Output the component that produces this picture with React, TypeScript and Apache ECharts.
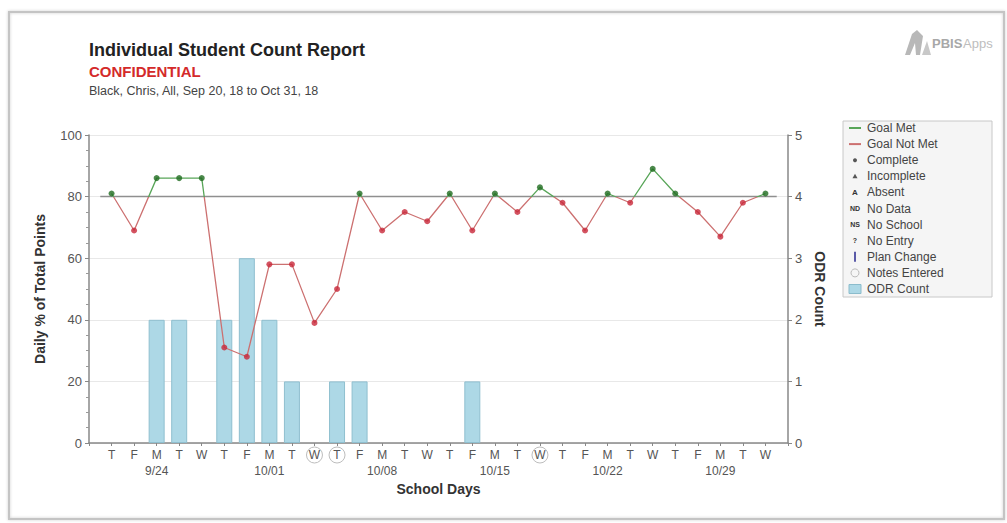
import React, { useEffect, useRef } from "react";
import * as echarts from "echarts";

const FONT = "'Liberation Sans', Arial, sans-serif";

// School days (Sep 20, 18 to Oct 31, 18)
const days = ["T","F","M","T","W","T","F","M","T","W","T","F","M","T","W","T","F","M","T","W","T","F","M","T","W","T","F","M","T","W"];
const dates = ["9/20","9/21","9/24","9/25","9/26","9/27","9/28","10/01","10/02","10/03","10/04","10/05","10/08","10/09","10/10","10/11","10/12","10/15","10/16","10/17","10/18","10/19","10/22","10/23","10/24","10/25","10/26","10/29","10/30","10/31"];
// Daily % of total points
const dailyPoints = [81,69,86,86,86,31,28,58,58,39,50,81,69,75,72,81,69,81,75,83,78,69,81,78,89,81,75,67,78,81];
// ODR count
const odrCount = [0,0,2,2,0,2,3,2,1,0,1,1,0,0,0,0,1,0,0,0,0,0,0,0,0,0,0,0,0,0];
// Days with notes entered (indexes into days)
const notesEntered = [9, 10, 19];
const GOAL = 80;

const leftTicks = { min: 0, max: 100, interval: 20 };
const rightTicks = { min: 0, max: 5, interval: 1 };

const legendItems = ["Goal Met","Goal Not Met","Complete","Incomplete","Absent","No Data","No School","No Entry","Plan Change","Notes Entered","ODR Count"];

const GREEN_LINE = "#58a558";
const RED_LINE = "#cc7070";
const GREEN_PT = "#1f6b1f";
const RED_PT = "#c8283a";

export default function App() {
  const ref = useRef<HTMLDivElement>(null);
  useEffect(() => {
    if (!ref.current) return;
    const chart = echarts.init(ref.current, null, { renderer: "svg" });
    const cats = ["", ...dates, ""];
    const pad = (arr: any[]) => ["-", ...arr, "-"];
    const lineData = pad(dailyPoints);
    const pointData = pad(
      dailyPoints.map((v) => ({
        value: v,
        itemStyle: { color: v >= GOAL ? GREEN_PT : RED_PT },
      }))
    );
    const barData = pad(odrCount.map((v) => (v > 0 ? v : "-")));
    // goal line spans half a day beyond the first and last school day
    const goalData = [
      [0.5, GOAL],
      [days.length + 0.5, GOAL],
    ];

    const legendChildren: any[] = [
      {
        type: "rect",
        shape: { x: 0, y: 0, width: 149, height: 176 },
        style: { fill: "#f5f5f5", stroke: "#c8c8c8", lineWidth: 1 },
      },
    ];
    legendItems.forEach((name, i) => {
      const cy = 7 + i * 16.1;
      legendChildren.push({
        type: "text",
        x: 24,
        y: cy,
        style: { text: name, fontSize: 12, fontFamily: FONT, fill: "#444", verticalAlign: "middle" },
      });
      const ix = 12;
      let icon: any = null;
      switch (i) {
        case 0:
          icon = { type: "line", shape: { x1: ix - 6, y1: cy, x2: ix + 6, y2: cy }, style: { stroke: GREEN_LINE, lineWidth: 2 } };
          break;
        case 1:
          icon = { type: "line", shape: { x1: ix - 6, y1: cy, x2: ix + 6, y2: cy }, style: { stroke: RED_LINE, lineWidth: 2 } };
          break;
        case 2:
          icon = { type: "circle", shape: { cx: ix, cy, r: 2 }, style: { fill: "#555" } };
          break;
        case 3:
          icon = { type: "polygon", shape: { points: [[ix - 2.5, cy + 2], [ix + 2.5, cy + 2], [ix, cy - 2.5]] }, style: { fill: "#555" } };
          break;
        case 4:
        case 5:
        case 6:
        case 7: {
          const t = ["A", "ND", "NS", "?"][i - 4];
          icon = {
            type: "text",
            x: ix,
            y: cy,
            style: { text: t, fontSize: i === 4 ? 8 : 7, fontWeight: "bold", fontFamily: FONT, fill: "#333", align: "center", verticalAlign: "middle" },
          };
          break;
        }
        case 8:
          icon = { type: "line", shape: { x1: ix, y1: cy - 5, x2: ix, y2: cy + 5 }, style: { stroke: "#5a5aa8", lineWidth: 2 } };
          break;
        case 9:
          icon = { type: "circle", shape: { cx: ix, cy, r: 4 }, style: { fill: "none", stroke: "#bbb", lineWidth: 1 } };
          break;
        case 10:
          icon = { type: "rect", shape: { x: ix - 6, y: cy - 4.5, width: 12, height: 9 }, style: { fill: "#add8e6", stroke: "#8bbccc", lineWidth: 1 } };
          break;
      }
      if (icon) legendChildren.push(icon);
    });

    const option: any = {
      animation: false,
      backgroundColor: "#ffffff",
      textStyle: { fontFamily: FONT },
      grid: { left: 89, right: 219, top: 135, bottom: 80, containLabel: false },
      visualMap: {
        type: "piecewise",
        show: false,
        seriesIndex: 2,
        dimension: 1,
        pieces: [
          { gte: 0, lt: GOAL, color: RED_LINE },
          { gte: GOAL, lte: 100, color: GREEN_LINE },
        ],
        outOfRange: { color: RED_LINE },
      },
      xAxis: [
        {
          type: "category",
          data: cats,
          boundaryGap: false,
          name: "School Days",
          nameLocation: "middle",
          nameGap: 32,
          nameTextStyle: { fontSize: 14, fontWeight: "bold", color: "#333", fontFamily: FONT },
          axisLine: { lineStyle: { color: "#888", width: 1.5 } },
          axisTick: { show: true, length: 3, lineStyle: { color: "#888" }, interval: 0 },
          axisLabel: {
            interval: 0,
            margin: 4,
            color: "#555",
            fontSize: 12,
            fontFamily: FONT,
            formatter: (_v: string, idx: number) => {
              if (idx === 0 || idx === cats.length - 1) return "";
              const i = idx - 1;
              const letter = notesEntered.includes(i) ? `{c|${days[i]}}` : `{d|${days[i]}}`;
              const date = days[i] === "M" ? `\n{m|${dates[i]}}` : "";
              return letter + date;
            },
            rich: {
              d: { fontSize: 12, color: "#555", lineHeight: 16, fontFamily: FONT },
              c: {
                fontSize: 12,
                color: "#555",
                fontFamily: FONT,
                lineHeight: 16,
                width: 16,
                height: 16,
                align: "center",
                borderColor: "#bdbdbd",
                borderWidth: 1,
                borderRadius: 9,
              },
              m: { fontSize: 12, color: "#555", lineHeight: 16, fontFamily: FONT },
            },
          },
          splitLine: { show: false },
        },
        {
          type: "value",
          show: false,
          min: 0,
          max: days.length + 1,
          splitLine: { show: false },
        },
      ],
      yAxis: [
        {
          type: "value",
          ...leftTicks,
          name: "Daily % of Total Points",
          nameLocation: "middle",
          nameGap: 42,
          nameTextStyle: { fontSize: 14, fontWeight: "bold", color: "#333", fontFamily: FONT },
          axisLine: { show: true, lineStyle: { color: "#888", width: 1.5 } },
          axisTick: { show: true, length: 4, lineStyle: { color: "#888" } },
          minorTick: { show: true, splitNumber: 4, length: 3, lineStyle: { color: "#999" } },
          axisLabel: { color: "#555", fontSize: 13, margin: 7, fontFamily: FONT },
          splitLine: { show: true, lineStyle: { color: "#e8e8e8", width: 1 } },
        },
        {
          type: "value",
          ...rightTicks,
          position: "right",
          name: "ODR Count",
          nameLocation: "middle",
          nameRotate: -90,
          nameGap: 24,
          nameTextStyle: { fontSize: 14, fontWeight: "bold", color: "#333", fontFamily: FONT },
          axisLine: { show: true, lineStyle: { color: "#888", width: 1.5 } },
          axisTick: { show: true, length: 4, lineStyle: { color: "#888" } },
          axisLabel: { color: "#555", fontSize: 13, margin: 7, fontFamily: FONT },
          splitLine: { show: false },
        },
      ],
      series: [
        {
          type: "bar",
          name: "ODR Count",
          xAxisIndex: 0,
          yAxisIndex: 1,
          data: barData,
          barWidth: 16,
          itemStyle: { color: "#add8e6", borderColor: "#8fbfcf", borderWidth: 1 },
          z: 1,
        },
        {
          type: "line",
          name: "Goal",
          xAxisIndex: 1,
          yAxisIndex: 0,
          data: goalData,
          symbol: "none",
          lineStyle: { color: "#8f8f8f", width: 1.5 },
          z: 2,
        },
        {
          type: "line",
          name: "Daily %",
          xAxisIndex: 0,
          yAxisIndex: 0,
          data: lineData,
          showSymbol: false,
          symbol: "none",
          lineStyle: { width: 1.3 },
          z: 3,
        },
        {
          type: "scatter",
          name: "Points",
          xAxisIndex: 0,
          yAxisIndex: 0,
          data: pointData,
          symbol: "circle",
          symbolSize: 6,
          z: 4,
        },
      ],
      graphic: [
        {
          type: "rect",
          shape: { x: 9, y: 12, width: 995, height: 507 },
          style: { fill: "none", stroke: "#c4c4c4", lineWidth: 2, shadowBlur: 3, shadowColor: "rgba(0,0,0,0.2)" },
          silent: true,
          z: -10,
        },
        {
          type: "text",
          x: 89,
          y: 41,
          style: { text: "Individual Student Count Report", fontSize: 18, fontWeight: "bold", fill: "#222", fontFamily: FONT },
        },
        {
          type: "text",
          x: 89,
          y: 64,
          style: { text: "CONFIDENTIAL", fontSize: 15, fontWeight: "bold", fill: "#d42a2a", fontFamily: FONT },
        },
        {
          type: "text",
          x: 89,
          y: 84,
          style: { text: "Black, Chris, All, Sep 20, 18 to Oct 31, 18", fontSize: 12.5, fill: "#444", fontFamily: FONT },
        },
        {
          type: "group",
          x: 903,
          y: 28,
          children: [
            { type: "polygon", shape: { points: [[2, 27], [9, 6], [14, 2], [20, 8], [17, 27], [13, 27], [12, 15], [7, 27]] }, style: { fill: "#b8b8b8" } },
            { type: "polygon", shape: { points: [[19, 27], [24, 13], [28, 27]] }, style: { fill: "#c8c8c8" } },
            { type: "text", x: 29, y: 15, style: { text: "PBIS", fontSize: 13, fontWeight: "bold", fill: "#a8a8a8", fontFamily: FONT, verticalAlign: "middle" } },
            { type: "text", x: 60, y: 15, style: { text: "Apps", fontSize: 13, fill: "#bdbdbd", fontFamily: FONT, verticalAlign: "middle" } },
          ],
        },
        {
          type: "group",
          x: 843,
          y: 121,
          children: legendChildren,
        },
      ],
    };
    chart.setOption(option);
    return () => chart.dispose();
  }, []);
  return (
    <div
      ref={ref}
      style={{ position: "absolute", left: 0, top: 0, width: 1007, height: 523, background: "#fff" }}
    />
  );
}
